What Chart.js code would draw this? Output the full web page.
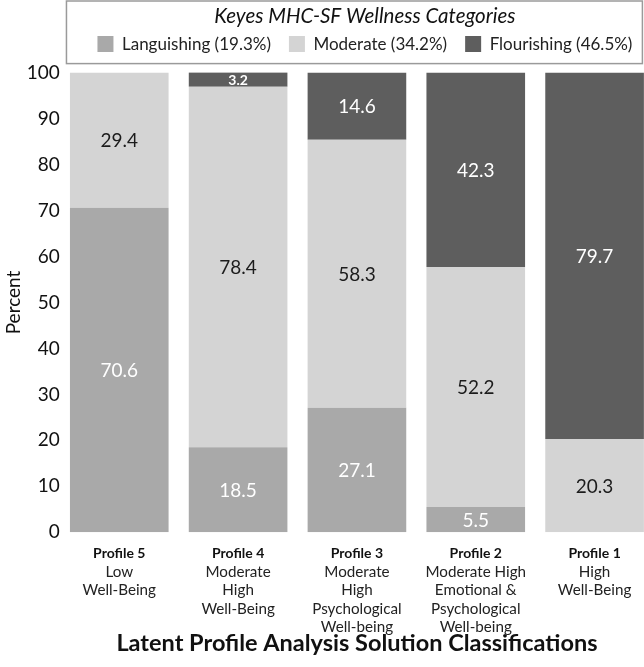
<!DOCTYPE html>
<html>
<head>
<meta charset="utf-8">
<script src="https://cdn.jsdelivr.net/npm/chart.js@4.4.1/dist/chart.umd.min.js"></script>
<style>
  html, body { margin: 0; padding: 0; background: #fff; overflow: hidden; }
  #wrap { width: 654px; height: 667px; }
</style>
</head>
<body>
<div id="wrap"><canvas id="chart"></canvas></div>
<script>
// Chart data
const profiles = ['Profile 5', 'Profile 4', 'Profile 3', 'Profile 2', 'Profile 1'];
const profileNotes = [
    ['Low', 'Well-Being'],
    ['Moderate', 'High', 'Well-Being'],
    ['Moderate', 'High', 'Psychological', 'Well-being'],
    ['Moderate High', 'Emotional &', 'Psychological', 'Well-being'],
    ['High', 'Well-Being']
];
const categoryNames = ['Languishing (19.3%)', 'Moderate (34.2%)', 'Flourishing (46.5%)'];
const languishing = [70.6, 18.5, 27.1, 5.5, 0];
const moderate = [29.4, 78.4, 58.3, 52.2, 20.3];
const flourishing = [0, 3.2, 14.6, 42.3, 79.7];
const yTicks = [0, 10, 20, 30, 40, 50, 60, 70, 80, 90, 100];

const colors = ['#a9a9a9', '#d4d4d4', '#5e5e5e'];
const labelColors = ['#ffffff', '#1c1c1c', '#ffffff'];
const labelFont = 'Lato, sans-serif';
const tickPad = 12;
const tickLine = 18.5;

// Legend: a bit of room below it, and centred over the plot
const legendOverPlot = {
    id: 'legendOverPlot',
    beforeLayout(chart) {
        const legend = chart.legend;
        if (legend && !legend._padded) {
            const fit = legend.fit.bind(legend);
            legend.fit = function () { fit(); this.height += 10; };
            legend._padded = true;
        }
    },
    afterLayout(chart) {
        const legend = chart.legend;
        legend.left = chart.chartArea.left + 8;
        legend.right = chart.chartArea.right + 8;
        legend.width = legend.right - legend.left;
    }
};

// Border round the legend
const legendBox = {
    id: 'legendBox',
    afterDraw(chart) {
        const boxes = chart.legend.legendHitBoxes;
        if (!boxes || !boxes.length) return;
        const first = boxes[0];
        const last = boxes[boxes.length - 1];
        const ctx = chart.ctx;
        ctx.save();
        ctx.strokeStyle = '#9a9a9a';
        ctx.lineWidth = 1.5;
        const left = first.left - 31;
        const right = last.left + last.width + 10;
        const top = 1;
        const bottom = first.top + first.height + 11;
        ctx.strokeRect(left, top, right - left, bottom - top);
        ctx.restore();
    }
};

// Bold "Profile N" on the first (blank) line of each x label
const profileHeads = {
    id: 'profileHeads',
    afterDraw(chart) {
        const scale = chart.scales.x;
        const ctx = chart.ctx;
        ctx.save();
        ctx.textAlign = 'center';
        ctx.textBaseline = 'middle';
        ctx.fillStyle = '#111';
        ctx.font = 'bold 14px ' + labelFont;
        profiles.forEach((name, i) => {
            ctx.fillText(name, scale.getPixelForTick(i), scale.top + tickPad + tickLine / 2);
        });
        ctx.restore();
    }
};

// Values written in the middle of each segment
const segmentLabels = {
    id: 'segmentLabels',
    afterDatasetsDraw(chart) {
        const ctx = chart.ctx;
        ctx.save();
        ctx.textAlign = 'center';
        ctx.textBaseline = 'middle';
        chart.data.datasets.forEach((ds, i) => {
            const meta = chart.getDatasetMeta(i);
            meta.data.forEach((bar, j) => {
                const value = ds.data[j];
                if (!value) return;
                const h = Math.abs(bar.base - bar.y);
                const small = h < 20;
                ctx.fillStyle = labelColors[i];
                ctx.font = small ? 'bold 14px ' + labelFont : '19px ' + labelFont;
                ctx.fillText(value.toFixed(1), bar.x, (bar.y + bar.base) / 2 + 1);
            });
        });
        ctx.restore();
    }
};

const ctx = document.getElementById('chart').getContext('2d');
new Chart(ctx, {
    type: 'bar',
    data: {
        labels: profiles,
        datasets: [
            { label: categoryNames[0], data: languishing, backgroundColor: colors[0] },
            { label: categoryNames[1], data: moderate, backgroundColor: colors[1] },
            { label: categoryNames[2], data: flourishing, backgroundColor: colors[2] }
        ]
    },
    options: {
        responsive: true,
        maintainAspectRatio: false,
        animation: false,
        layout: { padding: { top: 4, left: 2, right: 0, bottom: 0 } },
        datasets: {
            bar: { barPercentage: 0.83, categoryPercentage: 1, borderWidth: 0 }
        },
        plugins: {
            tooltip: { enabled: false },
            title: {
                display: true,
                position: 'bottom',
                fullSize: false,
                text: 'Latent Profile Analysis Solution Classifications',
                color: '#111',
                font: { family: labelFont, size: 23.5, weight: 'bold' },
                padding: { top: -19, bottom: 9 }
            },
            legend: {
                position: 'top',
                title: {
                    display: true,
                    text: 'Keyes MHC-SF Wellness Categories',
                    color: '#111',
                    font: { family: labelFont, size: 20.5, style: 'italic' },
                    padding: { top: 2, bottom: -13 }
                },
                labels: {
                    color: '#222',
                    font: { family: labelFont, size: 17 },
                    boxWidth: 16,
                    boxHeight: 16,
                    padding: 18
                }
            }
        },
        scales: {
            x: {
                stacked: true,
                grid: { display: false, drawTicks: false },
                border: { display: false },
                ticks: {
                    color: '#222',
                    font: { family: labelFont, size: 15.2, lineHeight: tickLine / 15.2 },
                    padding: tickPad,
                    maxRotation: 0,
                    autoSkip: false,
                    callback: (v, i) => [''].concat(profileNotes[i])
                }
            },
            y: {
                stacked: true,
                min: 0,
                max: 100,
                afterBuildTicks: (scale) => { scale.ticks = yTicks.map(v => ({ value: v })); },
                grid: { display: false, drawTicks: false },
                border: { display: false },
                ticks: {
                    color: '#111',
                    font: { family: labelFont, size: 19 },
                    padding: 0
                },
                title: {
                    display: true,
                    text: 'Percent',
                    color: '#111',
                    font: { family: labelFont, size: 19 },
                    padding: { top: 0, bottom: 2 }
                }
            }
        }
    },
    plugins: [legendOverPlot, legendBox, profileHeads, segmentLabels]
});
</script>
</body>
</html>
